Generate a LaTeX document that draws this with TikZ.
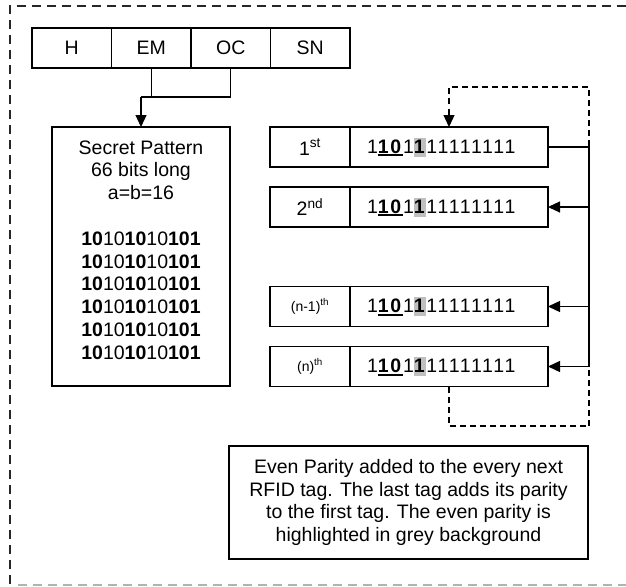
\documentclass[tikz,border=0pt]{standalone}
\usepackage{fontspec}
\setmainfont{Liberation Sans}
\usetikzlibrary{arrows.meta}
\definecolor{hl}{gray}{0.75}
\newcommand\ulb[1]{\leavevmode\vtop{\hbox{\textbf{#1}}\kern1.3pt\hrule height1.6pt}}
\newcommand\hlb[1]{{\setlength{\fboxsep}{0pt}\colorbox{hl}{\rule[-3.5pt]{0pt}{19pt}\textbf{#1}}}}
\newcommand\bitrow{1\ulb{10}1\hlb{1}11111111}
\newcommand\secbits{\textbf{10}10\textbf{10}10\textbf{101}}
\begin{document}
\begin{tikzpicture}[x=1pt,y=-1pt,
  every node/.style={font=\fontsize{19.5}{22.8}\selectfont, text=black},
  cell/.style={draw, line width=1.1pt, inner sep=0pt, outer sep=0pt, minimum height=40pt},
  hcell/.style={cell, minimum width=79.5pt},
  lab/.style={cell, minimum width=80pt},
  bits/.style={cell, text width=164pt, inner xsep=17pt, align=left, font=\fontsize{19.5}{22.8}\selectfont\addfontfeature{LetterSpace=9}},
  conn/.style={line width=1.3pt},
  tip/.style={-{Triangle[length=12pt,width=11pt]}},
  loop/.style={line width=1.3pt, dash pattern=on 6pt off 4pt},
  small/.style={font=\fontsize{14}{16}\selectfont}
]
\useasboundingbox (0,0) rectangle (626,586);

% outer frame
\draw[line width=2.2pt, dash pattern=on 9pt off 6pt, color=black!85] (626,6) -- (10,6) -- (10,585);
\draw[line width=2pt, dash pattern=on 9pt off 6pt, color=black!30] (18,585) -- (626,585);

% header
\node[hcell] (h)  at (71.75,48)  {H};
\node[hcell] (em) at (151.25,48) {EM};
\node[hcell] (oc) at (230.75,48) {OC};
\node[hcell] (sn) at (310.25,48) {SN};

% secret pattern box
\node[draw, line width=1.1pt, minimum width=178pt, minimum height=259pt, inner sep=0pt, outer sep=0pt] (secret) at (141,256.5) {};
\node[align=center, inner sep=0pt] (stext) at (141,250) {Secret Pattern\\66 bits long\\a=b=16\\[22.8pt]\secbits\\\secbits\\\secbits\\\secbits\\\secbits\\\secbits};

\coordinate (j) at (141,97);
\draw[conn] (em.south) |- (j);
\draw[conn] (oc.south) |- (j);
\draw[conn,tip] (j) -- (secret.north);

% tag rows
\node[lab] (r1l) at (310,147) {1\textsuperscript{st}};
\node[bits] (r1b) at (449,147) {\bitrow};
\node[lab] (r2l) at (310,207) {2\textsuperscript{nd}};
\node[bits] (r2b) at (449,207) {\bitrow};
\node[lab, small] (r3l) at (310,306.5) {(n-1)\textsuperscript{th}};
\node[bits] (r3b) at (449,306.5) {\bitrow};
\node[lab, small] (r4l) at (310,366.5) {(n)\textsuperscript{th}};
\node[bits] (r4b) at (449,366.5) {\bitrow};

% bus
\coordinate (bt) at (589,147);
\coordinate (bb) at (589,366.5);
\draw[conn] (r1b.east) -- (bt) -- (bb);
\draw[conn,tip] (r2b.east -| bt) -- (r2b.east);
\draw[conn,tip] (r3b.east -| bt) -- (r3b.east);
\draw[conn,tip] (bb) -- (r4b.east);

% dashed loop
\coordinate (dl) at (589,426);
\coordinate (dt) at (589,87);
\draw[loop,tip] (r4b.south) |- (dl) -- (dt) -| (r1b.north);

% note
\node[draw, line width=1.1pt, minimum width=359pt, minimum height=113pt, align=center, inner sep=0pt] (note) at (408.5,502.5) {Even Parity added to the every next\\RFID tag. The last tag adds its parity\\to the first tag. The even parity is\\highlighted in grey background};
\end{tikzpicture}
\end{document}
